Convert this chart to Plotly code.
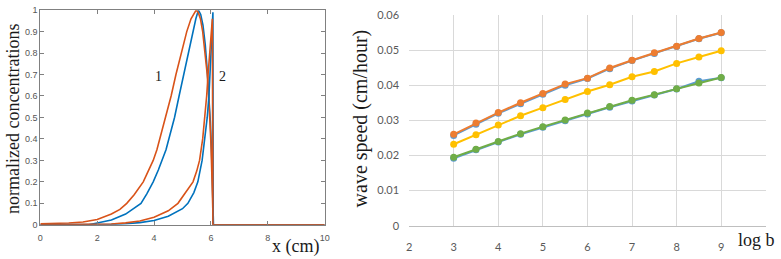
import plotly.graph_objects as go

W, H = 781, 259

# ---------- Left panel data (normalized concentrations vs x) ----------
orange1_x = [0, 1, 1.5, 2, 2.5, 2.8, 3.04, 3.3, 3.62, 3.8, 3.97, 4.1, 4.2, 4.4, 4.6, 4.77, 4.95, 5.15, 5.3, 5.42, 5.48, 5.55, 5.63, 5.71, 5.79, 5.87, 5.92, 5.96, 6.0, 6.04, 6.08, 10]
orange1_y = [0.005, 0.008, 0.013, 0.025, 0.05, 0.072, 0.1, 0.14, 0.2, 0.25, 0.3, 0.35, 0.4, 0.5, 0.6, 0.7, 0.8, 0.9, 0.96, 0.99, 1.0, 0.99, 0.96, 0.9, 0.81, 0.7, 0.6, 0.5, 0.38, 0.2, 0.0, 0.0]

blue1_x = [0, 1.7, 2, 2.5, 3, 3.25, 3.54, 3.75, 3.97, 4.15, 4.29, 4.42, 4.52, 4.72, 4.88, 5.04, 5.2, 5.37, 5.47, 5.56, 5.64, 5.72, 5.8, 5.87, 5.93, 5.98, 6.02, 6.06, 6.09]
blue1_y = [0.0, 0.0, 0.008, 0.022, 0.05, 0.072, 0.1, 0.145, 0.2, 0.255, 0.3, 0.35, 0.4, 0.5, 0.6, 0.7, 0.8, 0.9, 0.96, 1.0, 0.98, 0.93, 0.84, 0.72, 0.6, 0.48, 0.35, 0.18, 0.0]

orange2_x = [0, 2, 2.5, 3, 3.5, 4, 4.5, 4.84, 5.1, 5.37, 5.5, 5.6, 5.71, 5.79, 5.85, 5.9, 5.95, 5.99, 6.02, 6.04, 6.05, 6.07, 10]
orange2_y = [0, 0.002, 0.004, 0.009, 0.018, 0.035, 0.065, 0.1, 0.15, 0.2, 0.25, 0.3, 0.4, 0.5, 0.6, 0.7, 0.8, 0.87, 0.92, 0.95, 0.96, 0.0, 0.0]

blue2_x = [0, 1.8, 2.5, 3, 3.5, 4, 4.5, 5.0, 5.19, 5.4, 5.54, 5.69, 5.79, 5.87, 5.93, 5.97, 6.01, 6.04, 6.07, 6.08, 10]
blue2_y = [0, 0.0, 0.002, 0.005, 0.01, 0.02, 0.04, 0.075, 0.1, 0.15, 0.2, 0.3, 0.4, 0.5, 0.6, 0.7, 0.8, 0.9, 0.99, 0.0, 0.0]

left_xticks = [0, 2, 4, 6, 8, 10]
left_yticks = [0, 0.1, 0.2, 0.3, 0.4, 0.5, 0.6, 0.7, 0.8, 0.9, 1]
left_ytick_text = ["0", "0.1", "0.2", "0.3", "0.4", "0.5", "0.6", "0.7", "0.8", "0.9", "1"]

# ---------- Right panel data (wave speed vs log b) ----------
log_b = [3, 3.5, 4, 4.5, 5, 5.5, 6, 6.5, 7, 7.5, 8, 8.5, 9]
speed_blue_top = [0.0257, 0.0289, 0.0320, 0.0347, 0.0374, 0.0400, 0.0419, 0.0447, 0.0470, 0.0490, 0.0510, 0.0532, 0.0549]
speed_orange = [0.0260, 0.0292, 0.0322, 0.0350, 0.0376, 0.0403, 0.0420, 0.0449, 0.0471, 0.0492, 0.0511, 0.0533, 0.0550]
speed_yellow = [0.0232, 0.0259, 0.0287, 0.0313, 0.0336, 0.0359, 0.0382, 0.0401, 0.0424, 0.0439, 0.0462, 0.0480, 0.0498]
speed_blue_bot = [0.0192, 0.0216, 0.0238, 0.0260, 0.0280, 0.0299, 0.0318, 0.0337, 0.0355, 0.0372, 0.0389, 0.0411, 0.0421]
speed_green = [0.0195, 0.0218, 0.0240, 0.0262, 0.0282, 0.0301, 0.0321, 0.0339, 0.0357, 0.0373, 0.0390, 0.0406, 0.0422]

right_xticks = [2, 3, 4, 5, 6, 7, 8, 9, 10]
right_xtick_text = ["2", "3", "4", "5", "6", "7", "8", "9", ""]
right_yticks = [0, 0.01, 0.02, 0.03, 0.04, 0.05, 0.06]
right_ytick_text = ["0", "0.01", "0.02", "0.03", "0.04", "0.05", "0.06"]

M_BLUE = "#0072BD"
M_ORANGE = "#D95319"

fig = go.Figure()

for xs, ys, c in [(blue1_x, blue1_y, M_BLUE), (orange1_x, orange1_y, M_ORANGE),
                  (blue2_x, blue2_y, M_BLUE), (orange2_x, orange2_y, M_ORANGE)]:
    fig.add_trace(go.Scatter(x=xs, y=ys, mode="lines", line=dict(color=c, width=1.6),
                             xaxis="x", yaxis="y", showlegend=False, hoverinfo="skip"))

for ys, c in [(speed_blue_top, "#5B9BD5"), (speed_orange, "#ED7D31"), (speed_yellow, "#FFC000"),
              (speed_blue_bot, "#5B9BD5"), (speed_green, "#70AD47")]:
    fig.add_trace(go.Scatter(x=log_b, y=ys, mode="lines+markers",
                             line=dict(color=c, width=2), marker=dict(color=c, size=7),
                             xaxis="x2", yaxis="y2", showlegend=False, hoverinfo="skip"))

def px_x(p):
    return p / W

def px_y(p):
    return 1 - p / H

fig.update_layout(
    width=W, height=H,
    margin=dict(l=0, r=0, t=0, b=0),
    paper_bgcolor="white", plot_bgcolor="white",
    hovermode=False,
    xaxis=dict(domain=[px_x(37.7), px_x(325)], range=[0, 10], tickvals=left_xticks,
               ticks="inside", ticklen=4, tickcolor="#808080", showline=True, linecolor="#808080",
               linewidth=1, mirror="ticks", showgrid=False, zeroline=False, ticklabelstandoff=4,
               tickfont=dict(family="Liberation Sans", size=9, color="#555555")),
    yaxis=dict(domain=[px_y(229.3), px_y(3.3)], range=[0, 1], tickvals=left_yticks,
               ticktext=left_ytick_text,
               ticks="inside", ticklen=4, tickcolor="#808080", showline=True, linecolor="#808080",
               linewidth=1, mirror="ticks", showgrid=False, zeroline=False,
               tickfont=dict(family="Liberation Sans", size=9, color="#555555")),
    xaxis2=dict(domain=[px_x(410.3), px_x(770.7)], range=[2, 10], tickvals=right_xticks,
                ticktext=right_xtick_text, anchor="y2",
                showgrid=True, gridcolor="#D9D9D9", gridwidth=1, zeroline=False,
                showline=True, linecolor="#BFBFBF", ticks="", ticklabelstandoff=11,
                tickfont=dict(family="Lato", size=11, color="#595959")),
    yaxis2=dict(domain=[px_y(230.3), px_y(8.3)], range=[0, 0.06], tickvals=right_yticks,
                ticktext=right_ytick_text, anchor="x2",
                showgrid=True, gridcolor="#D9D9D9", gridwidth=1, zeroline=False,
                showline=False, ticks="", ticklabelstandoff=9,
                tickfont=dict(family="Lato", size=11, color="#595959")),
)

serif = "Liberation Serif"
annots = [
    dict(text="normalized concentrations", x=px_x(10), y=px_y(118), textangle=-90, size=18, xa="center", ya="middle", ys=0),
    dict(text="x (cm)", x=px_x(296), y=0, textangle=0, size=18, xa="center", ya="bottom", ys=-5),
    dict(text="1", x=px_x(157), y=px_y(73), textangle=0, size=14, xa="center", ya="middle", ys=0),
    dict(text="2", x=px_x(222), y=px_y(73), textangle=0, size=14, xa="center", ya="middle", ys=0),
    dict(text="wave speed (cm/hour)", x=px_x(361), y=px_y(117), textangle=-90, size=20, xa="center", ya="middle", ys=0),
    dict(text="log b", x=px_x(781), y=px_y(245), textangle=0, size=18, xa="right", ya="middle", ys=0),
]
for a in annots:
    fig.add_annotation(text=a["text"], x=a["x"], y=a["y"], xref="paper", yref="paper",
                       xanchor=a["xa"], yanchor=a["ya"], yshift=a["ys"], showarrow=False,
                       textangle=a["textangle"], borderpad=0,
                       font=dict(family=serif, size=a["size"], color="#1a1a1a"))

fig.write_html("out.html", config={"displayModeBar": False, "staticPlot": True},
               post_script="document.body.style.margin='0px';document.body.style.overflow='hidden';")
